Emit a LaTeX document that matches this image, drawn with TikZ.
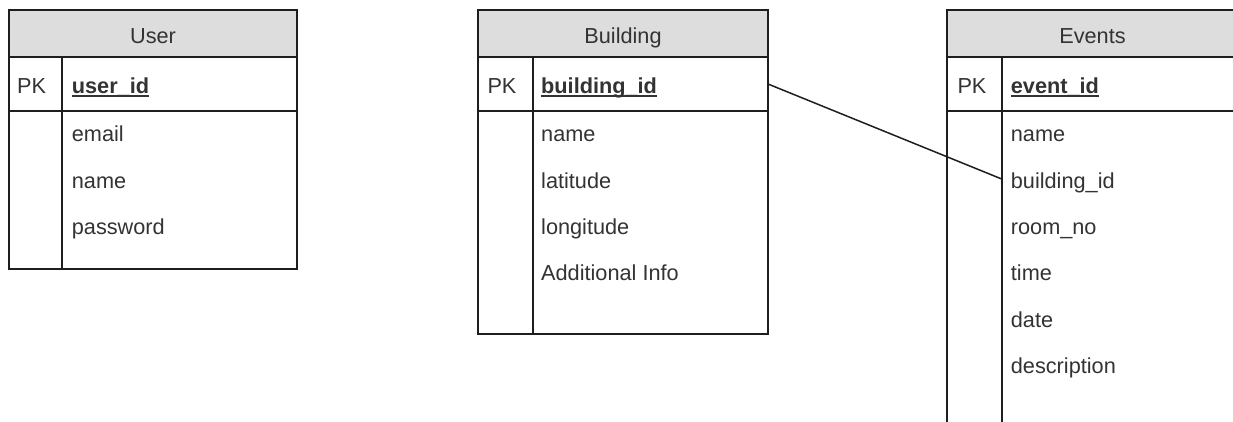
\documentclass[tikz,border=0pt]{standalone}
\usepackage{fontspec}
\setmainfont{Liberation Sans}
\definecolor{linec}{HTML}{1E1E1E}
\definecolor{hdrfill}{HTML}{DDDDDD}
\definecolor{txt}{HTML}{333333}
\begin{document}
\begin{tikzpicture}[x=1pt,y=-1pt,
  frame/.style={draw=linec, line width=1.6pt},
  hdr/.style={frame, fill=hdrfill, inner sep=0pt, outer sep=0pt, anchor=north west},
  cell/.style={frame, fill=white, inner sep=0pt, outer sep=0pt, anchor=north west},
  lbl/.style={inner sep=0pt, anchor=base west, text=txt, font=\fontsize{21.7}{26}\selectfont},
  ttl/.style={lbl, anchor=base},
  keyf/.style={lbl, font=\fontsize{21.7}{26}\selectfont\bfseries},
  ul/.style={draw=txt, line width=1.6pt},
  link/.style={draw=linec, line width=1.5pt}]
\useasboundingbox (0,0) rectangle (1233,421);
\clip (0,0) rectangle (1233,421);

% ---------- User ----------
\node[hdr, minimum width=288pt, minimum height=47pt] (userHead) at (9,10) {};
\node[cell, minimum width=288pt, minimum height=54pt] (userKey) at (9,57) {};
\node[cell, minimum width=288pt, minimum height=158pt] (userBody) at (9,111) {};
\draw[frame] (62,57) -- (62,269);
\node[ttl] (userTitle) at (153,43) {User};
\node[lbl] (userPK) at (17,93) {PK};
\node[keyf] (userId) at (71.7,93) {user\_id};
\draw[ul] ([yshift=-3pt]userId.base west) -- ([yshift=-3pt]userId.base east);
\foreach \t [count=\i] in {email,name,password}
  \node[lbl] (userF\i) at (71.7,{141.7+46.4*(\i-1)}) {\t};

% ---------- Building ----------
\node[hdr, minimum width=290pt, minimum height=47pt] (buildHead) at (478,10) {};
\node[cell, minimum width=290pt, minimum height=54pt] (buildKey) at (478,57) {};
\node[cell, minimum width=290pt, minimum height=223pt] (buildBody) at (478,111) {};
\draw[frame] (533,57) -- (533,334);
\node[ttl] (buildTitle) at (623,43) {Building};
\node[lbl] (buildPK) at (487.3,93) {PK};
\node[keyf] (buildId) at (541,93) {building\_id};
\draw[ul] ([yshift=-3pt]buildId.base west) -- ([yshift=-3pt]buildId.base east);
\foreach \t [count=\i] in {name,latitude,longitude,Additional Info}
  \node[lbl] (buildF\i) at (541,{141.7+46.4*(\i-1)}) {\t};

% ---------- Events ----------
\node[hdr, minimum width=291pt, minimum height=47pt] (evHead) at (947,10) {};
\node[cell, minimum width=291pt, minimum height=54pt] (evKey) at (947,57) {};
\node[cell, minimum width=291pt, minimum height=400pt] (evBody) at (947,111) {};
\draw[frame] (1001.7,57) -- (1001.7,511);
\node[ttl] (evTitle) at (1092.5,43) {Events};
\node[lbl] (evPK) at (957.3,93) {PK};
\node[keyf] (evId) at (1010.7,93) {event\_id};
\draw[ul] ([yshift=-3pt]evId.base west) -- ([yshift=-3pt]evId.base east);
\foreach \t [count=\i] in {name,building\_id,room\_no,time,date,description}
  \node[lbl] (evF\i) at (1010.7,{141.7+46.4*(\i-1)}) {\t};

% ---------- relation: Building.building_id -> Events.building_id ----------
\coordinate (evFK) at (1001.7,179);
\draw[link] (buildKey.east) -- (evFK);
\end{tikzpicture}
\end{document}
